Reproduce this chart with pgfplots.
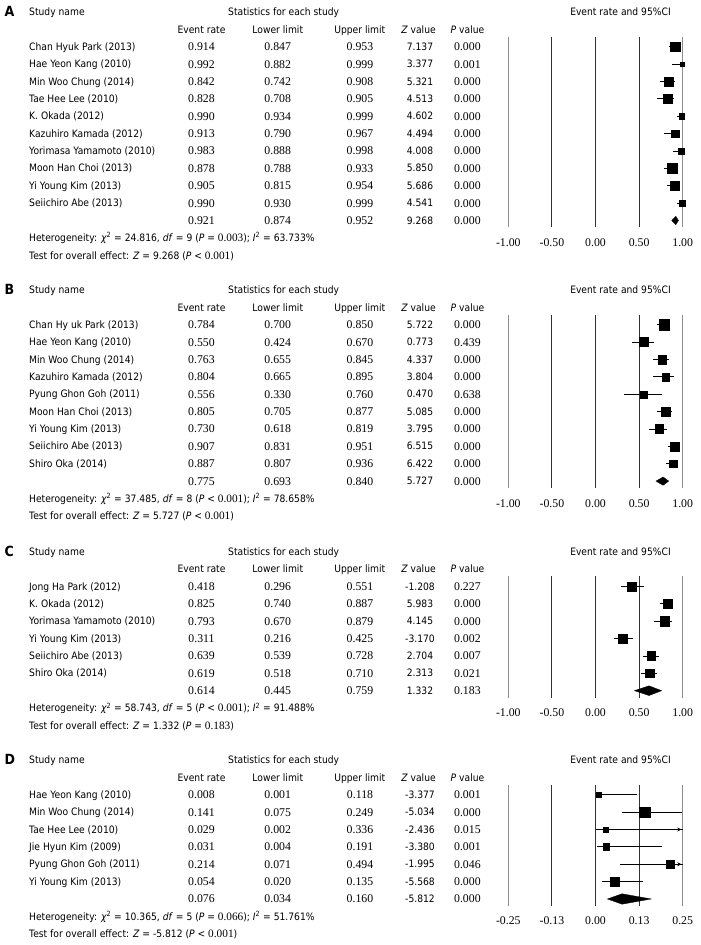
\documentclass[border=0pt]{standalone}
\usepackage{pgfplots}
\usepackage{pgfplotstable}
\pgfplotsset{compat=1.18}
\usepackage{fontspec}
\usetikzlibrary{arrows.meta}
\newfontfamily\tah[FakeStretch=0.9]{DejaVu Sans}
\newfontfamily\ser{Liberation Serif}
\newcommand\ts{\tah\fontsize{10.2}{12}\selectfont}
\newcommand\ns{\ser\fontsize{11.8}{13}\selectfont}
\newcommand\sn[1]{{\ser\fontsize{11.3}{12}\selectfont #1}}

% row text: H, i, name, er, lo, hi, z, p
\newcommand\rowtxt[8]{%
\node[anchor=base west,inner sep=0] at (29,#1+34.7+#2*17.38-17.38+3.6) {\ts #3};
\node[anchor=base,inner sep=0] at (201.5,#1+34.7+#2*17.38-17.38+4) {\ns #4};
\node[anchor=base,inner sep=0] at (277.7,#1+34.7+#2*17.38-17.38+4) {\ns #5};
\node[anchor=base,inner sep=0] at (360,#1+34.7+#2*17.38-17.38+4) {\ns #6};
\node[anchor=base,inner sep=0] at (420,#1+34.7+#2*17.38-17.38+3.6) {\ts #7};
\node[anchor=base,inner sep=0] at (467.4,#1+34.7+#2*17.38-17.38+4) {\ns #8};}
% panel head: H, letter
\newcommand\panelhead[2]{%
\node[anchor=base west,inner sep=0] at (4.5,#1+4.8) {\tah\bfseries\fontsize{14}{14}\selectfont #2};
\node[anchor=base west,inner sep=0] at (29,#1+3.6) {\ts Study name};
\node[anchor=base,inner sep=0] at (283.7,#1+3.6) {\ts Statistics for each study};
\node[anchor=base,inner sep=0] at (620.5,#1+3.6) {\ts Event rate and 95\%CI};
\node[anchor=base,inner sep=0] at (201.5,#1+17.4+3.6) {\ts Event rate};
\node[anchor=base,inner sep=0] at (277.8,#1+17.4+3.6) {\ts Lower limit};
\node[anchor=base,inner sep=0] at (359.8,#1+17.4+3.6) {\ts Upper limit};
\node[anchor=base,inner sep=0] at (418.5,#1+17.4+3.6) {\ts \textit{Z} value};
\node[anchor=base,inner sep=0] at (467.5,#1+17.4+3.6) {\ts \textit{P} value};}
% panel foot: H, nsum, het, test
\newcommand\panelfoot[4]{%
\node[anchor=base west,inner sep=0] at (29,#1+34.7+#2*17.38-17.38+17.5+3.6) {\ts #3};
\node[anchor=base west,inner sep=0] at (29,#1+34.7+#2*17.38-17.38+35+3.6) {\ts #4};}

\newcommand\chisq{\textit{χ}\textsuperscript{2}}
\newcommand\isq{\textit{I}\textsuperscript{2}}

\pgfplotsset{
 forest/.style={scale only axis, anchor=north west, xmin=-1, xmax=1, x=87.2pt, y=17.38pt,
  y dir=reverse, ymin=0.425, axis line style={draw=none}, major tick length=0pt, ytick=\empty,
  xtick={-0.5,0,0.5}, xticklabels={-0.50,0.00,0.50},
  extra x ticks={-1,1}, extra x tick labels={-1.00,1.00},
  xmajorgrids, grid style={draw=black!80, line width=0.9pt},
  extra x tick style={grid style={draw=black!45, line width=0.9pt}},
  xticklabel style={font=\ns, anchor=base, yshift=-19pt}, clip=false},
 sq/.style={scatter, only marks, mark=square*, scatter/use mapped color={draw=black,fill=black},
  visualization depends on={\thisrow{s}/2 \as \ms},
  scatter/@pre marker code/.append style={/tikz/mark size=\ms}, mark options={line width=0.3pt}},
 ci/.style={only marks, mark=none, error bars/.cd, x dir=both, x explicit, error mark=none,
  error bar style={draw=black, line width=0.8pt}}
}

\pgfplotstableread{
row er lo hi s
1 0.914 0.847 0.953 9.4
2 0.992 0.882 0.999 3.8
3 0.842 0.742 0.908 8.8
4 0.828 0.708 0.905 9.1
5 0.990 0.934 0.999 5.3
6 0.913 0.790 0.967 7.5
7 0.983 0.888 0.998 5.5
8 0.878 0.788 0.933 9.7
9 0.905 0.815 0.954 9.1
10 0.990 0.930 0.999 5.8
}\tabA
\pgfplotstableread{
row er lo hi s
1 0.784 0.700 0.850 10.4
2 0.550 0.424 0.670 9.1
3 0.763 0.655 0.845 8.5
4 0.804 0.665 0.895 7.8
5 0.556 0.330 0.760 7.1
6 0.805 0.705 0.877 9.8
7 0.730 0.618 0.819 8.8
8 0.907 0.831 0.951 8.8
9 0.887 0.807 0.936 7.8
}\tabB
\pgfplotstableread{
row er lo hi s
1 0.418 0.296 0.551 9.1
2 0.825 0.740 0.887 8.5
3 0.793 0.670 0.879 9.1
4 0.311 0.216 0.425 9.1
5 0.639 0.539 0.728 8.8
6 0.619 0.518 0.710 8.5
}\tabC
\pgfplotstableread{
row er lo hi hc s
1 0.008 0.001 0.118 0.118 4.8
2 0.141 0.075 0.249 0.249 10.8
3 0.029 0.002 0.336 0.250 4.5
4 0.031 0.004 0.191 0.191 6.5
5 0.214 0.071 0.494 0.250 7.8
6 0.054 0.020 0.135 0.135 8.8
}\tabD

\begin{document}
\begin{tikzpicture}
\path[use as bounding box] (0,0) rectangle (701pt,-945pt);
\begin{scope}[x=1pt,y=-1pt]
% ---- A
\panelhead{12}{A}
\rowtxt{12}{1}{Chan Hyuk Park (2013)}{0.914}{0.847}{0.953}{7.137}{0.000}
\rowtxt{12}{2}{Hae Yeon Kang (2010)}{0.992}{0.882}{0.999}{3.377}{0.001}
\rowtxt{12}{3}{Min Woo Chung (2014)}{0.842}{0.742}{0.908}{5.321}{0.000}
\rowtxt{12}{4}{Tae Hee Lee (2010)}{0.828}{0.708}{0.905}{4.513}{0.000}
\rowtxt{12}{5}{K. Okada (2012)}{0.990}{0.934}{0.999}{4.602}{0.000}
\rowtxt{12}{6}{Kazuhiro Kamada (2012)}{0.913}{0.790}{0.967}{4.494}{0.000}
\rowtxt{12}{7}{Yorimasa Yamamoto (2010)}{0.983}{0.888}{0.998}{4.008}{0.000}
\rowtxt{12}{8}{Moon Han Choi (2013)}{0.878}{0.788}{0.933}{5.850}{0.000}
\rowtxt{12}{9}{Yi Young Kim (2013)}{0.905}{0.815}{0.954}{5.686}{0.000}
\rowtxt{12}{10}{Seiichiro Abe (2013)}{0.990}{0.930}{0.999}{4.541}{0.000}
\rowtxt{12}{11}{}{0.921}{0.874}{0.952}{9.268}{0.000}
\panelfoot{12}{11}{Heterogeneity: \chisq{} = 24.816, \textit{df} = 9 (\textit{P} = \sn{0.003}); \isq{} = 63.733\%}{Test for overall effect: \textit{Z} = 9.268 (\textit{P} < \sn{0.001})}
% ---- B
\panelhead{290}{B}
\rowtxt{290}{1}{Chan Hy uk Park (2013)}{0.784}{0.700}{0.850}{5.722}{0.000}
\rowtxt{290}{2}{Hae Yeon Kang (2010)}{0.550}{0.424}{0.670}{0.773}{0.439}
\rowtxt{290}{3}{Min Woo Chung (2014)}{0.763}{0.655}{0.845}{4.337}{0.000}
\rowtxt{290}{4}{Kazuhiro Kamada (2012)}{0.804}{0.665}{0.895}{3.804}{0.000}
\rowtxt{290}{5}{Pyung Ghon Goh (2011)}{0.556}{0.330}{0.760}{0.470}{0.638}
\rowtxt{290}{6}{Moon Han Choi (2013)}{0.805}{0.705}{0.877}{5.085}{0.000}
\rowtxt{290}{7}{Yi Young Kim (2013)}{0.730}{0.618}{0.819}{3.795}{0.000}
\rowtxt{290}{8}{Seiichiro Abe (2013)}{0.907}{0.831}{0.951}{6.515}{0.000}
\rowtxt{290}{9}{Shiro Oka (2014)}{0.887}{0.807}{0.936}{6.422}{0.000}
\rowtxt{290}{10}{}{0.775}{0.693}{0.840}{5.727}{0.000}
\panelfoot{290}{10}{Heterogeneity: \chisq{} = 37.485, \textit{df} = 8 (\textit{P} < \sn{0.001}); \isq{} = 78.658\%}{Test for overall effect: \textit{Z} = 5.727 (\textit{P} < \sn{0.001})}
% ---- C
\panelhead{551.7}{C}
\rowtxt{551.7}{1}{Jong Ha Park (2012)}{0.418}{0.296}{0.551}{-1.208}{0.227}
\rowtxt{551.7}{2}{K. Okada (2012)}{0.825}{0.740}{0.887}{5.983}{0.000}
\rowtxt{551.7}{3}{Yorimasa Yamamoto (2010)}{0.793}{0.670}{0.879}{4.145}{0.000}
\rowtxt{551.7}{4}{Yi Young Kim (2013)}{0.311}{0.216}{0.425}{-3.170}{0.002}
\rowtxt{551.7}{5}{Seiichiro Abe (2013)}{0.639}{0.539}{0.728}{2.704}{0.007}
\rowtxt{551.7}{6}{Shiro Oka (2014)}{0.619}{0.518}{0.710}{2.313}{0.021}
\rowtxt{551.7}{7}{}{0.614}{0.445}{0.759}{1.332}{0.183}
\panelfoot{551.7}{7}{Heterogeneity: \chisq{} = 58.743, \textit{df} = 5 (\textit{P} < \sn{0.001}); \isq{} = 91.488\%}{Test for overall effect: \textit{Z} = 1.332 (\textit{P} = \sn{0.183})}
% ---- D
\panelhead{760}{D}
\rowtxt{760}{1}{Hae Yeon Kang (2010)}{0.008}{0.001}{0.118}{-3.377}{0.001}
\rowtxt{760}{2}{Min Woo Chung (2014)}{0.141}{0.075}{0.249}{-5.034}{0.000}
\rowtxt{760}{3}{Tae Hee Lee (2010)}{0.029}{0.002}{0.336}{-2.436}{0.015}
\rowtxt{760}{4}{Jie Hyun Kim (2009)}{0.031}{0.004}{0.191}{-3.380}{0.001}
\rowtxt{760}{5}{Pyung Ghon Goh (2011)}{0.214}{0.071}{0.494}{-1.995}{0.046}
\rowtxt{760}{6}{Yi Young Kim (2013)}{0.054}{0.020}{0.135}{-5.568}{0.000}
\rowtxt{760}{7}{}{0.076}{0.034}{0.160}{-5.812}{0.000}
\panelfoot{760}{7}{Heterogeneity: \chisq{} = 10.365, \textit{df} = 5 (\textit{P} = \sn{0.066}); \isq{} = 51.761\%}{Test for overall effect: \textit{Z} = -5.812 (\textit{P} < \sn{0.001})}
\end{scope}

% ---- forest axes
\begin{axis}[forest, at={(508.3pt,-36.7pt)}, ymax=11.4]
\addplot[ci] table[x=er,y=row,x error plus expr=\thisrow{hi}-\thisrow{er},x error minus expr=\thisrow{er}-\thisrow{lo}] {\tabA};
\addplot[sq] table[x=er,y=row] {\tabA};
\addplot[fill=black,draw=black,line width=0.3pt] coordinates {(0.874,11) (0.921,10.76) (0.952,11) (0.921,11.24)} -- cycle;
\end{axis}
\begin{axis}[forest, at={(508.3pt,-314.7pt)}, ymax=10.4]
\addplot[ci] table[x=er,y=row,x error plus expr=\thisrow{hi}-\thisrow{er},x error minus expr=\thisrow{er}-\thisrow{lo}] {\tabB};
\addplot[sq] table[x=er,y=row] {\tabB};
\addplot[fill=black,draw=black,line width=0.3pt] coordinates {(0.693,10) (0.775,9.76) (0.840,10) (0.775,10.24)} -- cycle;
\end{axis}
\begin{axis}[forest, at={(508.3pt,-576.4pt)}, ymax=7.4]
\addplot[ci] table[x=er,y=row,x error plus expr=\thisrow{hi}-\thisrow{er},x error minus expr=\thisrow{er}-\thisrow{lo}] {\tabC};
\addplot[sq] table[x=er,y=row] {\tabC};
\addplot[fill=black,draw=black,line width=0.3pt] coordinates {(0.445,7) (0.614,6.72) (0.759,7) (0.614,7.28)} -- cycle;
\end{axis}
\begin{axis}[forest, at={(508.3pt,-784.7pt)}, ymax=7.4, xmin=-0.25, xmax=0.25, x=348.8pt,
  xtick={-0.125,0,0.125}, xticklabels={-0.13,0.00,0.13},
  extra x ticks={-0.25,0.25}, extra x tick labels={-0.25,0.25}]
\addplot[ci] table[x=er,y=row,x error plus expr=\thisrow{hc}-\thisrow{er},x error minus expr=\thisrow{er}-\thisrow{lo}] {\tabD};
\addplot[black, line width=0.8pt, -{Stealth[length=4pt,width=4pt]}] coordinates {(0.20,3) (0.246,3)};
\addplot[black, line width=0.8pt, -{Stealth[length=4pt,width=4pt]}] coordinates {(0.23,5) (0.246,5)};
\addplot[sq] table[x=er,y=row] {\tabD};
\addplot[fill=black,draw=black,line width=0.3pt] coordinates {(0.034,7) (0.076,6.7) (0.160,7) (0.076,7.3)} -- cycle;
\end{axis}
\end{tikzpicture}
\end{document}
